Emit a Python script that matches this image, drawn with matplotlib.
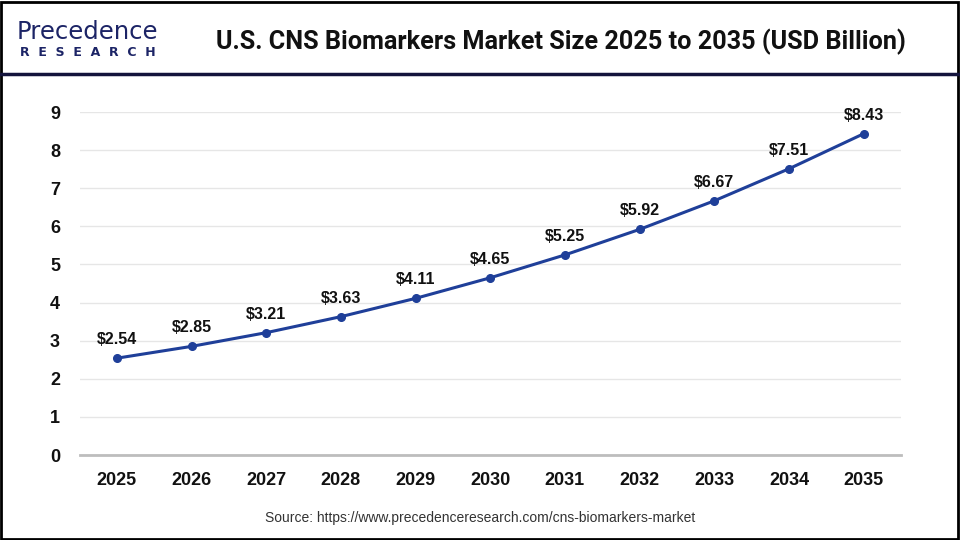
import matplotlib
matplotlib.use("Agg")
import matplotlib.pyplot as plt
from matplotlib.patches import Rectangle
from matplotlib.lines import Line2D

years = ["2025", "2026", "2027", "2028", "2029", "2030", "2031", "2032", "2033", "2034", "2035"]
values = [2.54, 2.85, 3.21, 3.63, 4.11, 4.65, 5.25, 5.92, 6.67, 7.51, 8.43]
labels = ["$2.54", "$2.85", "$3.21", "$3.63", "$4.11", "$4.65", "$5.25", "$5.92", "$6.67", "$7.51", "$8.43"]
yticks = [0, 1, 2, 3, 4, 5, 6, 7, 8, 9]

W, H = 960, 540
fig = plt.figure(figsize=(9.6, 5.4), dpi=100)
fig.patch.set_facecolor("white")

# border
fig.add_artist(Rectangle((0.001, 0.002), 0.997, 0.995, transform=fig.transFigure,
                         fill=False, edgecolor="black", linewidth=2))
# header separator
fig.add_artist(Line2D([0, 1], [1 - 74 / H, 1 - 74 / H], transform=fig.transFigure,
                      color="#14143c", linewidth=2.5))

# logo
fig.text(17 / W, 1 - 39 / H, "Precedence", fontsize=17.5, color="#1c2466",
         family="DejaVu Sans", va="baseline", ha="left")
fig.text(20 / W, 1 - 53 / H, "R  E  S  E  A  R  C  H", fontsize=9, color="#1c2466",
         family="DejaVu Sans", va="center", ha="left", fontweight="bold")

# title (fit to reference width 217..905 px)
title = fig.text(561 / W, 1 - 42 / H, "U.S. CNS Biomarkers Market Size 2025 to 2035 (USD Billion)",
                 fontsize=20, fontweight="bold", family=["Roboto", "DejaVu Sans"],
                 ha="center", va="center", color="#111111")
fig.canvas.draw()
tw = title.get_window_extent().width
title.set_fontsize(20 * 688 / tw)

# source
fig.text(480 / W, 1 - 518 / H, "Source: https://www.precedenceresearch.com/cns-biomarkers-market",
         fontsize=10, family=["Liberation Sans", "DejaVu Sans"], ha="center", va="center",
         color="#333333")

left, right = 79.5 / W, 901 / W
bottom, top = 1 - 455 / H, 1 - 112 / H
ax = fig.add_axes([left, bottom, right - left, top - bottom])
x = list(range(len(years)))
ax.plot(x, values, color="#1f3f99", linewidth=2.2, marker="o", markersize=5.5, clip_on=False, zorder=3)
for xi, v, lab in zip(x, values, labels):
    ax.annotate(lab, (xi, v), xytext=(0, 8), textcoords="offset points",
                ha="center", va="bottom", fontsize=11.5, fontweight="bold",
                family=["Liberation Sans", "DejaVu Sans"], color="#111111")

ax.set_xlim(-0.5, len(years) - 0.5)
ax.set_ylim(0, 9)
ax.set_yticks(yticks)
ax.set_yticklabels([str(t) for t in yticks])
ax.set_xticks(x)
ax.set_xticklabels(years)
for lab in ax.get_xticklabels() + ax.get_yticklabels():
    lab.set_fontweight("bold")
    lab.set_fontsize(13)
    lab.set_family(["Liberation Sans", "DejaVu Sans"])
    lab.set_color("#111111")
ax.tick_params(axis="both", length=0)
ax.tick_params(axis="y", pad=14)
ax.tick_params(axis="x", pad=12)
ax.grid(axis="y", color="#e6e6e6", linewidth=1)
ax.set_axisbelow(True)
for s in ["top", "right", "left"]:
    ax.spines[s].set_visible(False)
ax.spines["bottom"].set_color("#bdbdbd")
ax.spines["bottom"].set_linewidth(2)

fig.savefig("out.png", dpi=100, facecolor="white")
